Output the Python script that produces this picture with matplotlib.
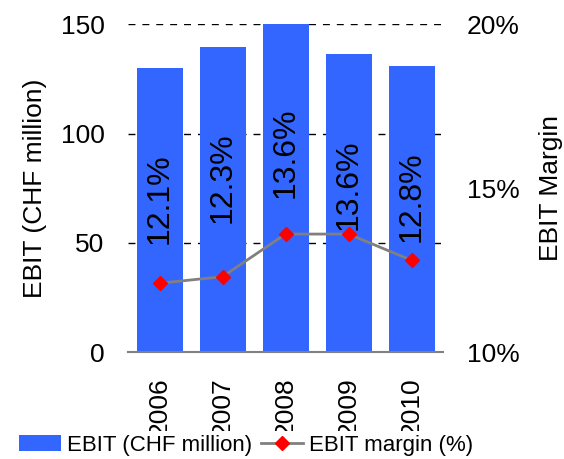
import matplotlib.pyplot as plt

plt.rcParams['font.family'] = ['Liberation Sans', 'DejaVu Sans']

years = ['2006', '2007', '2008', '2009', '2010']
ebit = [130.0, 139.6, 151.0, 136.4, 130.9]  # CHF million
margin = [12.1, 12.3, 13.6, 13.6, 12.8]  # %

fig = plt.figure(figsize=(5.64, 4.59), dpi=100)
ax = fig.add_axes([0.227, 0.233, 0.5585, 0.714])
ax2 = ax.twinx()

x = list(range(len(years)))
ax.bar(x, ebit, width=0.73, color='#3366FF', zorder=2, label='EBIT (CHF million)')

# margin labels written vertically inside each bar
for i in x:
    ax.text(i, ebit[i] - 60, '%.1f%%' % margin[i], rotation=90, ha='center', va='center',
            fontsize=23, color='black', zorder=3)

ax.set_xlim(-0.5, 4.5)
ax.set_ylim(0, 150)
ax.set_yticks([0, 50, 100, 150])
ax.set_xticks(x)
ax.set_xticklabels(years, rotation=90, va='top')
ax.tick_params(axis='both', length=0, labelsize=19, pad=17)
ax.tick_params(axis='x', pad=18)
for v in [50, 100, 150]:
    ax.axhline(v, color='black', lw=1, dashes=(5, 5), zorder=1)
for s in ['top', 'left', 'right']:
    ax.spines[s].set_visible(False)
ax.spines['bottom'].set_color('#808080')
ax.spines['bottom'].set_linewidth(1.5)
ax.set_ylabel('EBIT (CHF million)', fontsize=19, labelpad=10)

ax2.plot(x, margin, color='#808080', lw=2, marker='D', markersize=7.5,
         markerfacecolor='#FF0000', markeredgecolor='#FF0000', zorder=4, label='EBIT margin (%)')
ax2.set_ylim(10, 20)
ax2.set_yticks([10, 15, 20])
ax2.set_yticklabels(['10%', '15%', '20%'])
ax2.tick_params(axis='y', length=0, labelsize=19, pad=17)
for s in ['top', 'left', 'right', 'bottom']:
    ax2.spines[s].set_visible(False)
ax2.set_ylabel('EBIT Margin', fontsize=19, labelpad=14)

# white legend box at the bottom, sits over the lower end of the year labels
h1, l1 = ax.get_legend_handles_labels()
h2, l2 = ax2.get_legend_handles_labels()
leg = fig.legend(h1 + h2, l1 + l2, loc='center', bbox_to_anchor=(0.436, 0.03), ncol=2,
                 fontsize=16, frameon=True, fancybox=False, facecolor='white', edgecolor='none',
                 framealpha=1, handlelength=1.9, handletextpad=0.25, columnspacing=0.4,
                 borderpad=0.15)

fig.savefig('out.png', dpi=100)
